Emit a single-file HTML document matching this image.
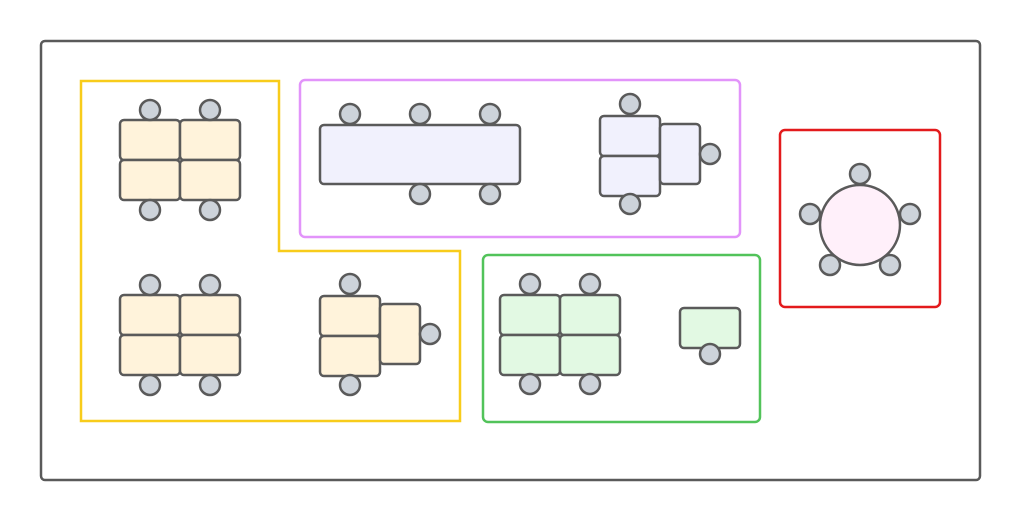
<!DOCTYPE html>
<html><head><style>html,body{margin:0;padding:0;background:#fff;}</style></head>
<body>
<svg width="1020" height="520" xmlns="http://www.w3.org/2000/svg">
<rect x="41" y="41" width="939" height="439" rx="4" fill="#fff" stroke="#5a5a5a" stroke-width="2.5"/>
<path d="M81,81 H279 V251 H460 V421 H81 Z" fill="none" stroke="#f8cc1b" stroke-width="2.5"/>
<rect x="300" y="80" width="440" height="157" rx="5" fill="none" stroke="#e294fa" stroke-width="2.5"/>
<rect x="780" y="130" width="160" height="177" rx="5" fill="none" stroke="#e31a1c" stroke-width="2.5"/>
<rect x="483" y="255" width="277" height="167" rx="5" fill="none" stroke="#52c35a" stroke-width="2.5"/>
<g stroke="#5a5a5a" stroke-width="2.5">
<g fill="#fff3db">
<rect x="120" y="120" width="60" height="40" rx="4"/><rect x="180" y="120" width="60" height="40" rx="4"/>
<rect x="120" y="160" width="60" height="40" rx="4"/><rect x="180" y="160" width="60" height="40" rx="4"/>
<rect x="120" y="295" width="60" height="40" rx="4"/><rect x="180" y="295" width="60" height="40" rx="4"/>
<rect x="120" y="335" width="60" height="40" rx="4"/><rect x="180" y="335" width="60" height="40" rx="4"/>
<rect x="320" y="296" width="60" height="40" rx="4"/><rect x="320" y="336" width="60" height="40" rx="4"/>
<rect x="380" y="304" width="40" height="60" rx="4"/>
</g>
<g fill="#f1f1fd">
<rect x="320" y="125" width="200" height="59" rx="4"/>
<rect x="600" y="116" width="60" height="40" rx="4"/><rect x="600" y="156" width="60" height="40" rx="4"/>
<rect x="660" y="124" width="40" height="60" rx="4"/>
</g>
<g fill="#e2f9e3">
<rect x="500" y="295" width="60" height="40" rx="4"/><rect x="560" y="295" width="60" height="40" rx="4"/>
<rect x="500" y="335" width="60" height="40" rx="4"/><rect x="560" y="335" width="60" height="40" rx="4"/>
<rect x="680" y="308" width="60" height="40" rx="4"/>
</g>
<circle cx="860" cy="225" r="40" fill="#fff0fa"/>
<g fill="#cdd3da">
<circle cx="150" cy="110" r="10"/><circle cx="210" cy="110" r="10"/><circle cx="150" cy="210" r="10"/><circle cx="210" cy="210" r="10"/>
<circle cx="150" cy="285" r="10"/><circle cx="210" cy="285" r="10"/><circle cx="150" cy="385" r="10"/><circle cx="210" cy="385" r="10"/>
<circle cx="350" cy="284" r="10"/><circle cx="350" cy="385" r="10"/><circle cx="430" cy="334" r="10"/>
<circle cx="350" cy="114" r="10"/><circle cx="420" cy="114" r="10"/><circle cx="490" cy="114" r="10"/>
<circle cx="420" cy="194" r="10"/><circle cx="490" cy="194" r="10"/>
<circle cx="630" cy="104" r="10"/><circle cx="630" cy="204" r="10"/><circle cx="710" cy="154" r="10"/>
<circle cx="860" cy="174" r="10"/><circle cx="810" cy="214" r="10"/><circle cx="910" cy="214" r="10"/><circle cx="830" cy="265" r="10"/><circle cx="890" cy="265" r="10"/>
<circle cx="530" cy="284" r="10"/><circle cx="590" cy="284" r="10"/><circle cx="530" cy="384" r="10"/><circle cx="590" cy="384" r="10"/>
<circle cx="710" cy="354" r="10"/>
</g>
</g>
</svg>
</body></html>
